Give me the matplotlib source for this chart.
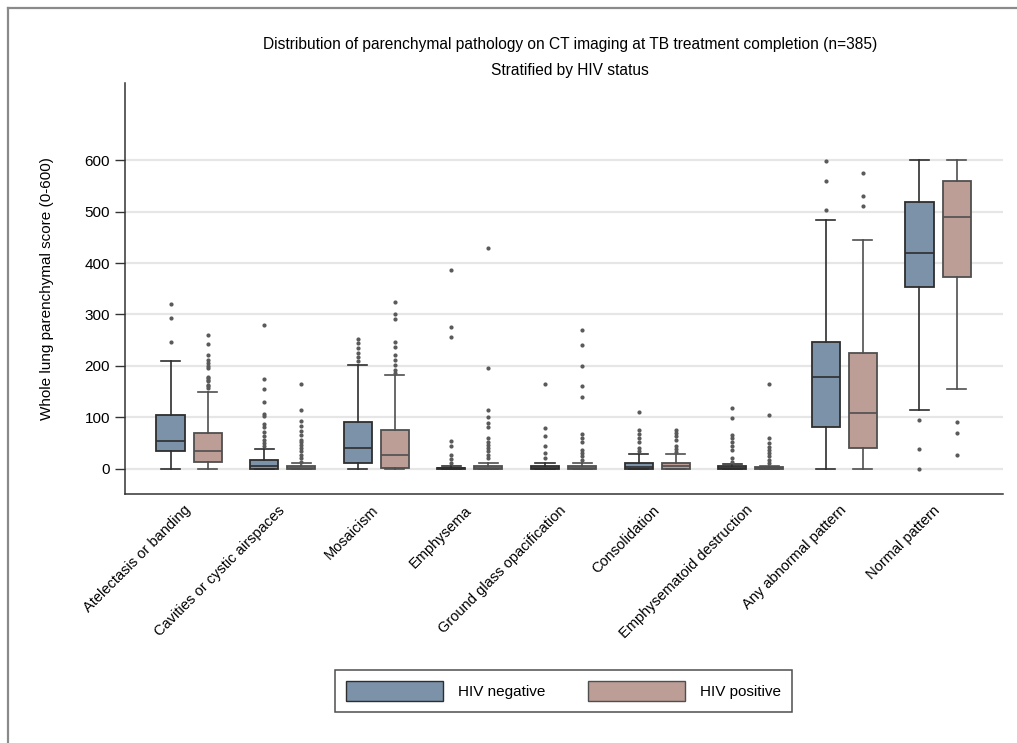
import matplotlib
matplotlib.use("Agg")
import matplotlib.pyplot as plt
from matplotlib.patches import Patch
from matplotlib.lines import Line2D
from matplotlib.transforms import ScaledTranslation

plt.rcParams['font.family'] = ['Liberation Sans', 'DejaVu Sans']

categories = [
    "Atelectasis or banding", "Cavities or cystic airspaces", "Mosaicism",
    "Emphysema", "Ground glass opacification", "Consolidation",
    "Emphysematoid destruction", "Any abnormal pattern", "Normal pattern",
]

# HIV negative: quartiles, whisker ends and outlying values per category
neg_q1 = [34, 0, 12, 0, 0, 0, 0, 81, 354]
neg_med = [54, 4.5, 39.5, 1, 1, 3, 1, 179, 419]
neg_q3 = [105, 17, 91, 2, 4.5, 12, 4.5, 246, 518]
neg_lo = [0, 0, 0, 0, 0, 0, 0, 0, 114]
neg_hi = [210, 39, 202, 5, 12, 29, 9, 484, 600]
neg_out = [
    [320, 294, 247],
    [279, 175, 155, 130, 106, 102, 87, 82, 72, 63, 56, 50, 45],
    [252, 244, 234, 226, 218, 210],
    [386, 276, 256, 55, 45, 27, 19, 12],
    [164, 80, 64, 45, 30, 21],
    [110, 76, 68, 60, 53, 40, 34],
    [119, 98, 66, 60, 53, 45, 37, 21, 14],
    [599, 559, 504],
    [94, 39, 0],
]

# HIV positive
pos_q1 = [14, 0, 1.3, 0, 0, 0, 0, 40, 372]
pos_med = [34, 1, 26.5, 1, 1, 5, 1, 109, 489]
pos_q3 = [69, 4.5, 74.5, 4.5, 4.5, 12, 3, 226, 560]
pos_lo = [0, 0, 0, 0, 0, 0, 0, 0, 155]
pos_hi = [150, 12, 182, 12, 12, 29, 6, 445, 600]
pos_out = [
    [260, 243, 221, 211, 205, 199, 195, 179, 176, 173, 170, 163, 160, 157],
    [164, 115, 93, 84, 74, 65, 56, 52, 47, 40, 34, 27, 21, 14],
    [325, 300, 292, 246, 237, 221, 212, 202, 193, 187],
    [430, 195, 115, 100, 89, 82, 60, 53, 47, 40, 34, 27, 21],
    [270, 241, 200, 160, 139, 68, 60, 53, 37, 30, 24, 17],
    [76, 70, 64, 56, 45, 38, 32],
    [164, 105, 60, 50, 43, 37, 30, 24, 17, 11],
    [575, 531, 511],
    [90, 70, 26],
]

series_names = ["HIV negative", "HIV positive"]
yticks = [0, 100, 200, 300, 400, 500, 600]

NEG_FILL = "#7b92a8"
POS_FILL = "#bc9e97"
NEG_EDGE = "#2e2e2e"
POS_EDGE = "#4f4f4f"


def build_stats(q1, med, q3, lo, hi, out):
    return [dict(q1=a, med=b, q3=c, whislo=d, whishi=e, fliers=f)
            for a, b, c, d, e, f in zip(q1, med, q3, lo, hi, out)]


fig = plt.figure(figsize=(10.17, 7.43), dpi=100)
ax = fig.add_axes([125 / 1017, 1 - 494 / 743, (1003 - 125) / 1017, (494 - 83) / 743])

n = len(categories)
offset = 0.198
width = 0.30
groups = [
    (build_stats(neg_q1, neg_med, neg_q3, neg_lo, neg_hi, neg_out), -offset, NEG_FILL, NEG_EDGE),
    (build_stats(pos_q1, pos_med, pos_q3, pos_lo, pos_hi, pos_out), offset, POS_FILL, POS_EDGE),
]
for stats, dx, fill, edge in groups:
    ax.bxp(
        stats,
        positions=[i + dx for i in range(n)],
        widths=width,
        capwidths=width * 0.68,
        patch_artist=True,
        manage_ticks=False,
        boxprops=dict(facecolor=fill, edgecolor=edge, linewidth=1.3),
        medianprops=dict(color=edge, linewidth=1.2),
        whiskerprops=dict(color=edge, linewidth=1.2),
        capprops=dict(color=edge, linewidth=1.2),
        flierprops=dict(marker="o", markersize=2.0, markerfacecolor="#595959",
                        markeredgecolor="#595959", linestyle="none"),
        zorder=3,
    )

ax.set_xlim(-0.684, 8.694)
ax.set_ylim(-49, 750)
ax.set_yticks(yticks)
ax.set_yticklabels([str(v) for v in yticks], fontsize=11)
ax.set_xticks(range(n))
ax.set_xticklabels(categories, rotation=45, ha="right", va="top",
                   rotation_mode="anchor", fontsize=10.5)
ax.tick_params(axis="x", length=0, pad=8)
ax.tick_params(axis="y", length=7.2, width=1, color="#333333", pad=3.6)

# nudge the slanted category labels slightly left and up
shift = ScaledTranslation(-5 / 100, 2 / 100, fig.dpi_scale_trans)
for lbl in ax.get_xticklabels():
    lbl.set_transform(lbl.get_transform() + shift)

ax.grid(axis="y", color="#e6e6e6", linewidth=1.6, zorder=0)
ax.set_axisbelow(True)
for side in ("top", "right"):
    ax.spines[side].set_visible(False)
for side in ("left", "bottom"):
    ax.spines[side].set_color("#333333")
    ax.spines[side].set_linewidth(1.1)

ax.set_ylabel("Whole lung parenchymal score (0-600)", fontsize=11)
ax.yaxis.set_label_coords((54 - 125) / 878, 0.5)

fig.text(570 / 1017, 1 - 45 / 743,
         "Distribution of parenchymal pathology on CT imaging at TB treatment completion (n=385)",
         ha="center", va="center", fontsize=11.2)
fig.text(570 / 1017, 1 - 70 / 743, "Stratified by HIV status",
         ha="center", va="center", fontsize=11.2)

handles = [
    Patch(facecolor=NEG_FILL, edgecolor=NEG_EDGE, linewidth=1.0),
    Patch(facecolor=POS_FILL, edgecolor=POS_EDGE, linewidth=1.0),
]
leg = fig.legend(handles, series_names, loc="center",
                 bbox_to_anchor=(563.5 / 1017, 1 - 691 / 743),
                 ncol=2, fontsize=11, frameon=True, fancybox=False,
                 edgecolor="#222222", handlelength=6.35, handleheight=1.7,
                 handletextpad=0.98, columnspacing=2.75, borderpad=0.72)
leg.get_frame().set_linewidth(1.1)

# Outer panel border along the top and left edges
fig.add_artist(Line2D([8 / 1017, 1.0], [1 - 8 / 743, 1 - 8 / 743],
                      color="#8a8a8a", linewidth=1.6, transform=fig.transFigure))
fig.add_artist(Line2D([8 / 1017, 8 / 1017], [0.0, 1 - 8 / 743],
                      color="#8a8a8a", linewidth=1.6, transform=fig.transFigure))

fig.savefig("out.png", dpi=100)
